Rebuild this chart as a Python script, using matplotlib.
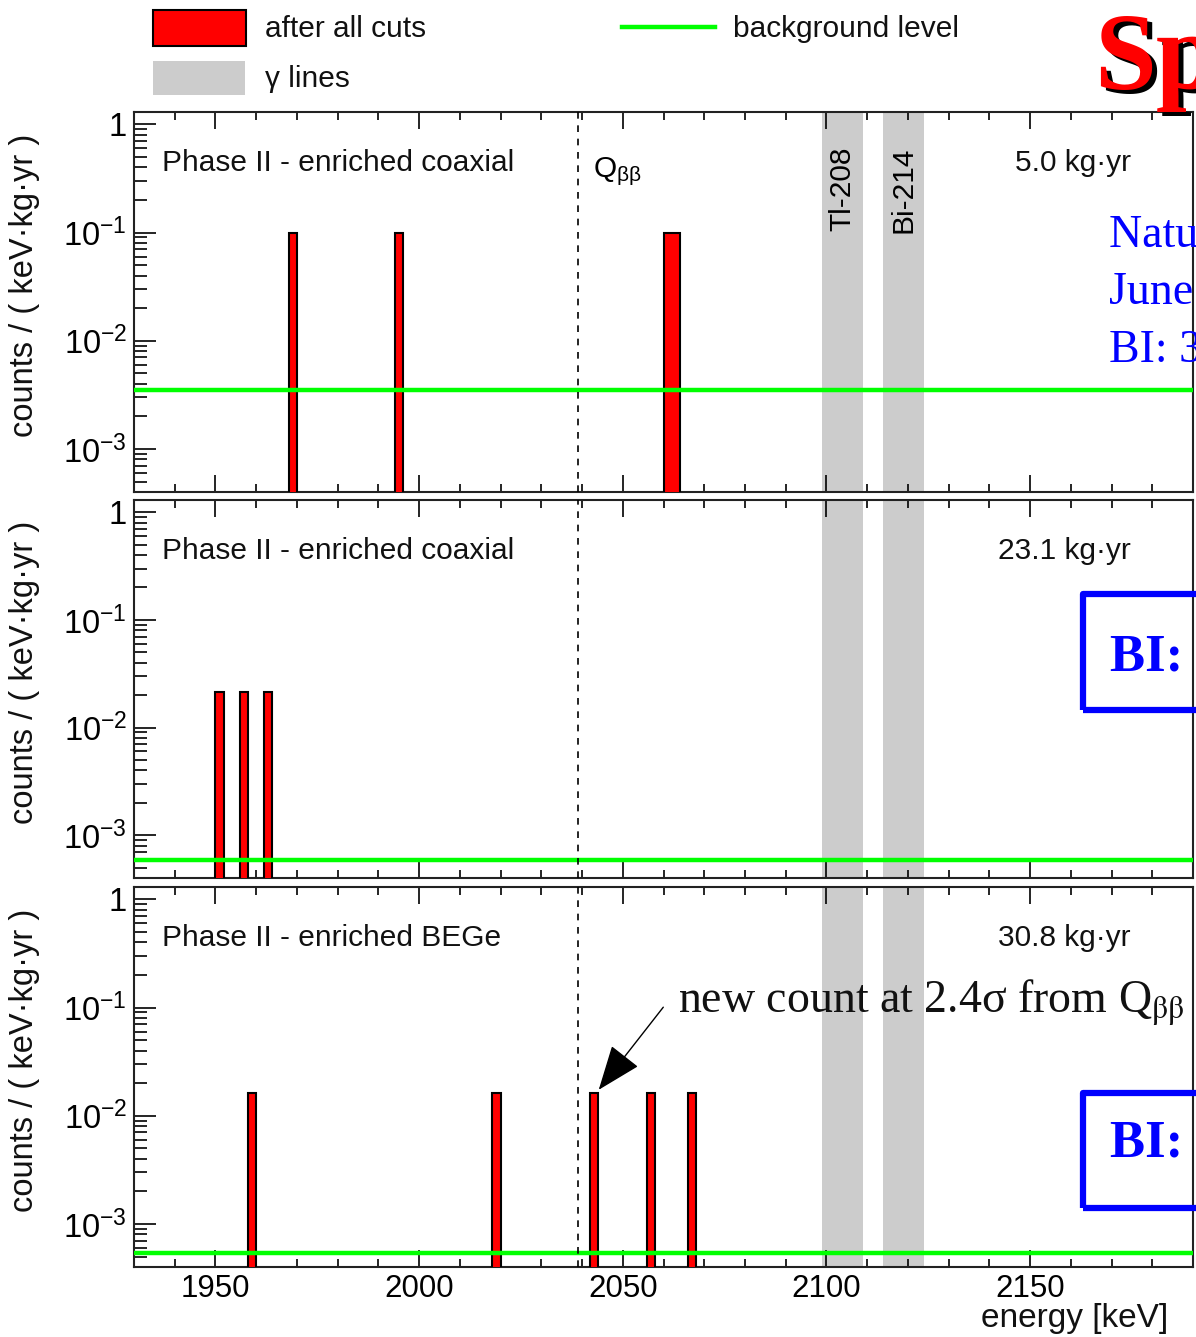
import numpy as np
import matplotlib
matplotlib.use("Agg")
import matplotlib.pyplot as plt
from matplotlib.patches import Rectangle, FancyArrowPatch
from matplotlib.lines import Line2D
from matplotlib.ticker import FixedLocator, NullFormatter, FixedFormatter

plt.rcParams['font.family'] = ['Liberation Sans', 'DejaVu Sans']
plt.rcParams['mathtext.fontset'] = 'custom'
plt.rcParams['mathtext.rm'] = 'Liberation Sans'
plt.rcParams['mathtext.it'] = 'Liberation Sans:italic'

# ---------------- data ----------------
panel_titles = ["Phase II - enriched coaxial", "Phase II - enriched coaxial", "Phase II - enriched BEGe"]
exposures = ["5.0 kg·yr", "23.1 kg·yr", "30.8 kg·yr"]
# left edges of 2 keV bins holding one event, and bin contents (counts/(keV kg yr))
bins_top = [1968, 1994, 2060, 2062]
vals_top = [0.1, 0.1, 0.1, 0.1]
bins_mid = [1950, 1956, 1962]
vals_mid = [0.0216, 0.0216, 0.0216]
bins_bot = [1958, 2018, 2042, 2056, 2066]
vals_bot = [0.0162, 0.0162, 0.0162, 0.0162, 0.0162]
bkg_levels = [3.5e-3, 5.9e-4, 5.4e-4]
bin_width = 2
q_bb = 2039
gamma_bands = [(2099, 2109), (2114, 2124)]
gamma_names = ["Tl-208", "Bi-214"]
x_range = (1930, 2190)
y_range = (4.0e-4, 1.3)
x_major = [1950, 2000, 2050, 2100, 2150]

W, H = 1196, 1337
fig = plt.figure(figsize=(W / 100, H / 100), dpi=100)

def fx(px):
    return px / W

def fy(py):
    return 1 - py / H

panels = [(112, 492), (500, 878), (887, 1267)]
left_px, right_px = 134, 1193
data_sets = [(bins_top, vals_top), (bins_mid, vals_mid), (bins_bot, vals_bot)]

FS = 21.5
axes = []
for i, (top, bot) in enumerate(panels):
    ax = fig.add_axes([fx(left_px), fy(bot), fx(right_px - left_px), (bot - top) / H])
    axes.append(ax)
    ax.set_yscale('log')
    ax.set_xlim(*x_range)
    ax.set_ylim(*y_range)
    # gamma bands
    for (a, b) in gamma_bands:
        ax.axvspan(a, b, color='#cccccc', lw=0, zorder=1)
    # histogram
    edges = np.arange(x_range[0], x_range[1] + bin_width, bin_width)
    hist = np.full(len(edges) - 1, 1e-7)
    bl, vl = data_sets[i]
    for b, v in zip(bl, vl):
        idx = int(round((b - x_range[0]) / bin_width))
        hist[idx] = v
    ax.stairs(hist, edges, baseline=1e-7, fill=True, facecolor='#ff0000',
              edgecolor='black', lw=1.5, zorder=3)
    # background level
    ax.axhline(bkg_levels[i], color='#00ff00', lw=3.2, zorder=4)
    # Q_bb line
    ax.axvline(q_bb, color='black', ls=(0, (4, 4)), lw=1.2, zorder=5)
    # ticks
    ax.yaxis.set_major_locator(FixedLocator([1e-3, 1e-2, 1e-1, 1]))
    ax.yaxis.set_major_formatter(FixedFormatter([r'$\mathregular{10^{-3}}$', r'$\mathregular{10^{-2}}$',
                                                 r'$\mathregular{10^{-1}}$', '1']))
    minors = [m * 10.0 ** e for e in range(-4, 1) for m in range(2, 10)]
    ax.yaxis.set_minor_locator(FixedLocator(minors))
    ax.yaxis.set_minor_formatter(NullFormatter())
    ax.xaxis.set_major_locator(FixedLocator(x_major))
    ax.xaxis.set_minor_locator(FixedLocator(list(range(1930, 2191, 10))))
    ax.tick_params(axis='y', which='major', direction='in', length=16, width=1.2, labelsize=23.5, pad=5)
    ax.tick_params(axis='y', which='minor', direction='in', length=9, width=1.2)
    ax.tick_params(axis='x', which='major', direction='in', length=12, width=1.2, top=True,
                   labelsize=22.5, pad=5)
    ax.tick_params(axis='x', which='minor', direction='in', length=6, width=1.2, top=True)
    if i < 2:
        ax.tick_params(axis='x', labelbottom=False)
    for s in ax.spines.values():
        s.set_linewidth(1.5)
        s.set_color('#222222')
    # texts
    ax.text(0.026, 0.866, panel_titles[i], transform=ax.transAxes, fontsize=FS,
            ha='left', va='center', color='#111111')
    ax.text(0.941, 0.866, exposures[i], transform=ax.transAxes, fontsize=FS,
            ha='right', va='center', color='#111111')
    fig.text(fx(25), fy((top + bot) / 2 - 17), "counts / ( keV·kg·yr )", rotation=90,
             ha='center', va='center', fontsize=23.5, color='#111111')

ax0 = axes[0]
ax0.text(q_bb + 3.6, 0.842, r'Q$_{\mathregular{\beta\beta}}$', transform=ax0.get_xaxis_transform(),
         fontsize=FS, ha='left', va='center')
for (a, b), name in zip(gamma_bands, gamma_names):
    ax0.text((a + b) / 2, 0.91, name, transform=ax0.get_xaxis_transform(), rotation=90,
             fontsize=FS, ha='center', va='top')

fig.text(fx(1168), fy(1318), "energy [keV]", ha='right', va='center', fontsize=24, color='#111111')

# ---------------- legend ----------------
fig.add_artist(Rectangle((fx(153), fy(46)), fx(93), (46 - 10) / H, transform=fig.transFigure,
                         facecolor='#ff0000', edgecolor='black', lw=1.5))
fig.add_artist(Rectangle((fx(153), fy(95)), fx(92), (95 - 61) / H, transform=fig.transFigure,
                         facecolor='#cccccc', edgecolor='none'))
fig.add_artist(Line2D([fx(622), fx(715)], [fy(27), fy(27)], transform=fig.transFigure,
                      color='#00ff00', lw=3.2))
fig.text(fx(265), fy(29), "after all cuts", fontsize=FS, ha='left', va='center', color='#111111')
fig.text(fx(265), fy(79), "γ lines", fontsize=FS, ha='left', va='center', color='#111111')
fig.text(fx(733), fy(29), "background level", fontsize=FS, ha='left', va='center', color='#111111')

# ---------------- slide overlays ----------------
serif = ['Liberation Serif', 'DejaVu Serif']
fig.text(fx(1099), fy(93), "Spectra", fontsize=80, fontweight='bold', family=serif,
         color='black', ha='left', va='baseline')
fig.text(fx(1094), fy(89), "Spectra", fontsize=80, fontweight='bold', family=serif,
         color='#ff0000', ha='left', va='baseline')
for txt, base in zip(["Nature 544 (2017) 47", "June 2017", "BI: 3.5·10⁻³"], [247, 304, 362]):
    fig.text(fx(1109), fy(base), txt, fontsize=33, family=serif, color='#0000ff',
             ha='left', va='baseline')

for (t, b, cy) in [(594, 710, 658), (1093, 1208, 1145)]:
    fig.add_artist(Rectangle((fx(1083), fy(b)), fx(200), (b - t) / H, transform=fig.transFigure,
                             facecolor='none', edgecolor='#0000ff', lw=4.5, joinstyle='round'))
    fig.text(fx(1110), fy(cy), "BI: 0.6·10⁻³", fontsize=38, fontweight='bold', family=serif,
             color='#0000ff', ha='left', va='center')

fig.text(fx(678), fy(1002), r"new count at 2.4σ from Q$_{\mathrm{\beta\beta}}$", fontsize=33, family=serif,
         color='#111111', ha='left', va='center', math_fontfamily='stix')
fig.add_artist(FancyArrowPatch(
    (fx(665), fy(1005)), (fx(597), fy(1092)), transform=fig.transFigure,
    arrowstyle='-|>,head_length=1.3,head_width=0.5', mutation_scale=22, lw=1.0, color='black'))

fig.savefig("out.png", dpi=100)
